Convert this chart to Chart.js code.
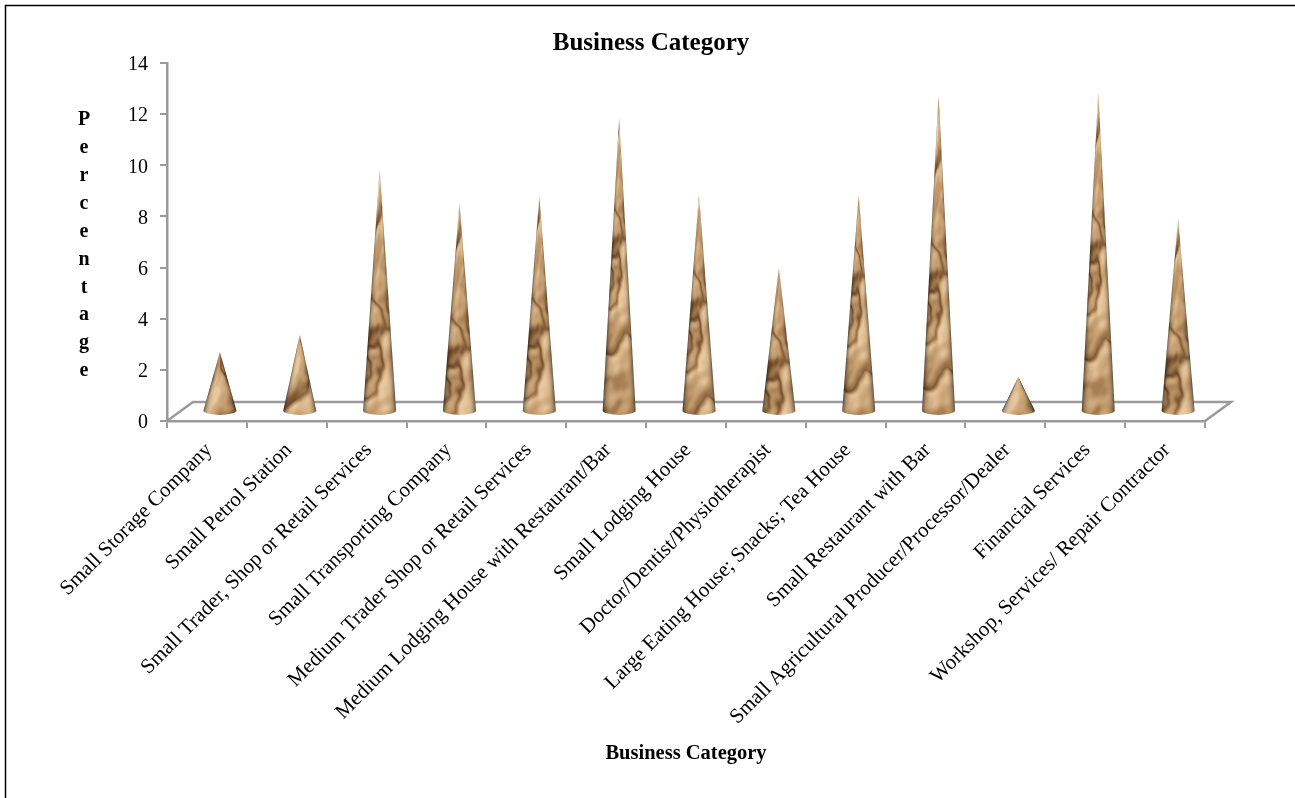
<!DOCTYPE html>
<html>
<head>
<meta charset="utf-8">
<title>Business Category</title>
<style>
  html, body { margin: 0; padding: 0; background: #fff; }
  canvas { display: block; }
</style>
<script src="https://cdn.jsdelivr.net/npm/chart.js@4"></script>
</head>
<body>
<canvas id="coneChart" width="1295" height="798"></canvas>
<script>
const categories = [
  'Small Storage Company',
  'Small Petrol Station',
  'Small Trader, Shop or Retail Services',
  'Small Transporting Company',
  'Medium Trader Shop or Retail Services',
  'Medium Lodging House with Restaurant/Bar',
  'Small Lodging House',
  'Doctor/Dentist/Physiotherapist',
  'Large Eating House; Snacks; Tea House',
  'Small Restaurant with Bar',
  'Small Agricultural Producer/Processor/Dealer',
  'Financial Services',
  'Workshop, Services/ Repair Contractor'
];
const percentages = [2.33, 3.0, 9.45, 8.16, 8.43, 11.45, 8.47, 5.62, 8.47, 12.35, 1.35, 12.47, 7.53];
const yTitleLetters = ['P', 'e', 'r', 'c', 'e', 'n', 't', 'a', 'g', 'e'];

const axisGrey = '#9a9a9a';
const serif = '"Liberation Serif", "Times New Roman", serif';
// how far the floor recedes from the front axis
const depthX = 26;
const depthY = -19;
const coneHalfWidth = 16.5;

// smooth value noise, seeded from a sine hash so every render is the same
function hash(x, y) {
  const s = Math.sin(x * 127.1 + y * 311.7) * 43758.5453;
  return s - Math.floor(s);
}
function noise(x, y) {
  const xi = Math.floor(x), yi = Math.floor(y);
  const u = x - xi, v = y - yi;
  const fx = u * u * (3 - 2 * u), fy = v * v * (3 - 2 * v);
  const top = hash(xi, yi) * (1 - fx) + hash(xi + 1, yi) * fx;
  const bot = hash(xi, yi + 1) * (1 - fx) + hash(xi + 1, yi + 1) * fx;
  return top * (1 - fy) + bot * fy;
}
function fbm(x, y) {
  return noise(x, y) * 0.62 + noise(x * 2.1 + 5, y * 2.1 + 1) * 0.28 + noise(x * 4.3 + 2, y * 4.3 + 8) * 0.1;
}
// creased height field; the width is squeezed later, so x is stretched here
function crease(x, y) {
  const px = x / 130, py = y / 40;
  const u = px * 0.85 + py * 0.5, v = py * 0.85 - px * 0.5;
  return Math.abs(fbm(u, v) - 0.5) * 2;
}
function mix(a, b, t) {
  return a + (b - a) * t;
}

// crumpled tan surface lit from one side, rounded across the width
function makeTexture() {
  const w = 120, h = 480;
  const tex = document.createElement('canvas');
  tex.width = w;
  tex.height = h;
  const g = tex.getContext('2d');
  const img = g.createImageData(w, h);
  for (let y = 0; y < h; y++) {
    for (let x = 0; x < w; x++) {
      const c = crease(x, y);
      const slope = (crease(x + 6, y + 2) - c) * 4;
      const blotch = fbm(x / 170 + 4, y / 50 + 9) - 0.5;
      const fold = Math.pow(1 - Math.min(c * 6, 1), 2);
      const v = Math.max(0, Math.min(1, 0.6 + slope + blotch * 0.7 - fold * 0.6));
      let r, gr, b;
      if (v < 0.5) {
        const t = v / 0.5;
        r = mix(108, 192, t); gr = mix(70, 152, t); b = mix(36, 106, t);
      } else {
        const t = (v - 0.5) / 0.5;
        r = mix(192, 232, t); gr = mix(152, 200, t); b = mix(106, 158, t);
      }
      // darken towards both silhouette edges
      const t = Math.abs(x / (w - 1) * 2 - 1);
      const edge = 1 - Math.pow(t, 5) * 0.6;
      const i = (y * w + x) * 4;
      img.data[i] = r * edge;
      img.data[i + 1] = gr * edge;
      img.data[i + 2] = b * edge;
      img.data[i + 3] = 255;
    }
  }
  g.putImageData(img, 0, 0);
  return tex;
}
const coneTexture = makeTexture();

const floorPlugin = {
  id: 'floor',
  beforeDatasetsDraw(chart) {
    const { ctx, chartArea: a } = chart;
    ctx.save();
    ctx.strokeStyle = axisGrey;
    ctx.lineWidth = 2.5;
    ctx.beginPath();
    ctx.moveTo(a.left, a.bottom);
    ctx.lineTo(a.left + depthX, a.bottom + depthY);
    ctx.lineTo(a.right + depthX, a.bottom + depthY);
    ctx.lineTo(a.right, a.bottom);
    ctx.stroke();
    ctx.restore();
  }
};

// replaces the flat bars: each cone stands on its bar's x, top and base
const conePlugin = {
  id: 'cones',
  afterDatasetsDraw(chart) {
    const ctx = chart.ctx;
    chart.getDatasetMeta(0).data.forEach((bar, i) => {
      const cx = bar.x + depthX / 2;
      const tip = bar.y + depthY / 2;
      const base = bar.base + depthY / 2;
      const ry = 4.4;
      ctx.save();
      ctx.beginPath();
      ctx.moveTo(cx, tip);
      ctx.lineTo(cx + coneHalfWidth, base);
      ctx.ellipse(cx, base, coneHalfWidth, ry, 0, 0, Math.PI);
      ctx.closePath();
      ctx.clip();
      const span = base - tip;
      const start = i * 13 % 110;
      for (let y = Math.floor(tip); y <= base + ry + 1; y++) {
        const half = Math.min(coneHalfWidth, coneHalfWidth * (y - tip) / span) + 0.5;
        const sy = start + (y - tip);
        ctx.drawImage(coneTexture, 0, sy, 120, 1.5, cx - half, y, half * 2, 1);
      }
      ctx.restore();
    });
  }
};

// left and top page rules, plus the stacked letters of the value axis title
const framePlugin = {
  id: 'frame',
  beforeDraw(chart) {
    const ctx = chart.ctx;
    ctx.save();
    ctx.fillStyle = '#fff';
    ctx.fillRect(0, 0, chart.width, chart.height);
    ctx.strokeStyle = '#000';
    ctx.lineWidth = 1.5;
    ctx.beginPath();
    ctx.moveTo(5.5, chart.height);
    ctx.lineTo(5.5, 5.5);
    ctx.lineTo(chart.width, 5.5);
    ctx.stroke();
    ctx.restore();
  },
  afterDraw(chart) {
    const ctx = chart.ctx;
    ctx.save();
    ctx.fillStyle = '#000';
    ctx.font = 'bold 20px ' + serif;
    ctx.textAlign = 'center';
    ctx.textBaseline = 'middle';
    yTitleLetters.forEach((ch, i) => ctx.fillText(ch, 84, 120 + i * 27.9));
    ctx.restore();
  }
};

new Chart(document.getElementById('coneChart'), {
  type: 'bar',
  data: {
    labels: categories,
    datasets: [{
      label: 'Business Category',
      data: percentages,
      backgroundColor: 'transparent',
      borderWidth: 0
    }]
  },
  plugins: [framePlugin, floorPlugin, conePlugin],
  options: {
    responsive: false,
    animation: false,
    events: [],
    layout: { padding: { left: 97, right: 90, top: 29, bottom: 0 } },
    plugins: {
      legend: { display: false },
      tooltip: { enabled: false },
      title: {
        display: true,
        text: 'Business Category',
        color: '#000',
        font: { family: serif, size: 25, weight: 'bold' },
        padding: { top: 0, bottom: 4 }
      }
    },
    scales: {
      x: {
        afterFit(scale) { scale.height = 377; },
        grid: { drawOnChartArea: false, color: axisGrey, tickLength: 7, lineWidth: 2 },
        border: { color: axisGrey, width: 2.5 },
        ticks: {
          color: '#000',
          autoSkip: false,
          maxRotation: 45,
          minRotation: 45,
          padding: 10,
          labelOffset: 2,
          font: { family: serif, size: 21 }
        },
        title: {
          display: true,
          text: 'Business Category',
          color: '#000',
          padding: { bottom: 32 },
          font: { family: serif, size: 20.5, weight: 'bold' }
        }
      },
      y: {
        min: 0,
        max: 14,
        afterFit(scale) { scale.width = 70; },
        grid: { drawOnChartArea: false, color: axisGrey, tickLength: 7, lineWidth: 2 },
        border: { color: axisGrey, width: 2.5 },
        ticks: {
          color: '#000',
          stepSize: 2,
          padding: 12,
          labelOffset: 2,
          font: { family: serif, size: 20 }
        }
      }
    }
  }
});
</script>
</body>
</html>
